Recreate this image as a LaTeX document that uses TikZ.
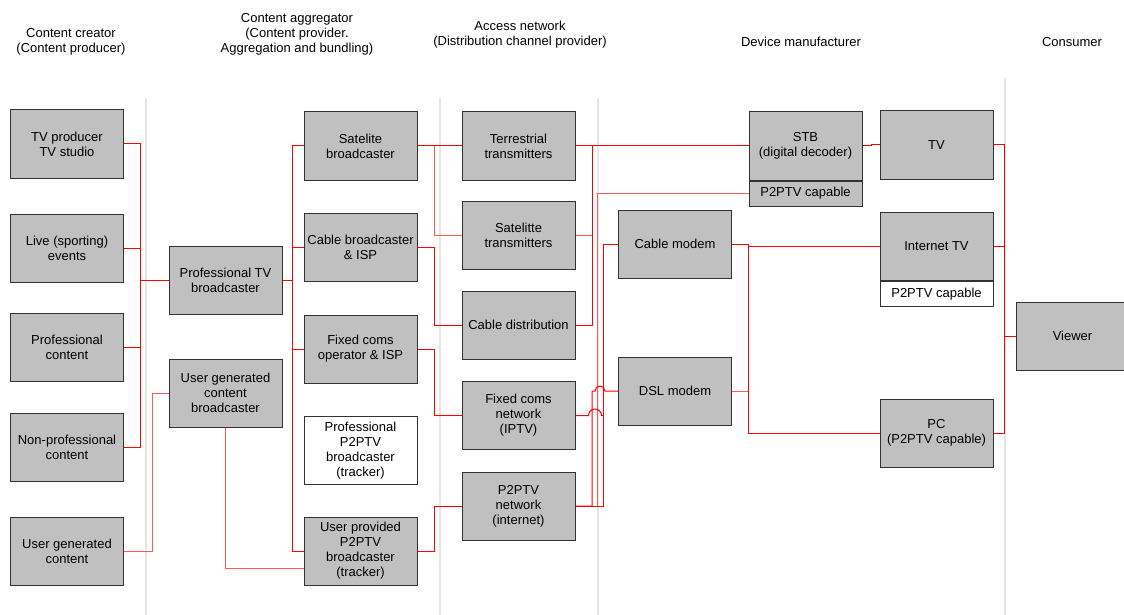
\documentclass[tikz,border=0pt]{standalone}
\usepackage{fontspec}
\setmainfont{Liberation Sans}
\usetikzlibrary{calc}
\definecolor{boxgray}{RGB}{192,192,192}
\definecolor{sepgray}{RGB}{230,230,230}
\begin{document}
\begin{tikzpicture}[x=1pt,y=-1pt,
  txt/.style={font=\fontsize{13pt}{15pt}\selectfont, align=center, inner sep=0pt},
  box/.style={txt, draw=black!80, line width=1pt, fill=boxgray,
    minimum width=113pt, minimum height=68pt},
  wbox/.style={box, fill=white},
  strip/.style={txt, draw=black!80, line width=1pt, fill=boxgray,
    minimum width=113pt, minimum height=25pt, anchor=north},
  wstrip/.style={strip, fill=white},
  wire/.style={draw=red, line width=1pt},
  pale/.style={draw=red!65, line width=1pt},
  sep/.style={draw=sepgray, line width=1.5pt}]
\useasboundingbox (0,0) rectangle (1124,615);

% column separators
\draw[sep] (146,98) -- (146,615);
\draw[sep] (440,98) -- (440,615);
\draw[sep] (598,98) -- (598,615);
\draw[sep] (1005,78) -- (1005,615);

% column headings
\node[txt] (h1) at (71,41.5) {Content creator\\(Content producer)};
\node[txt] (h2) at (297,34) {Content aggregator\\(Content provider.\\Aggregation and bundling)};
\node[txt] (h3) at (520,34.5) {Access network\\(Distribution channel provider)};
\node[txt] (h4) at (801,42) {Device manufacturer};
\node[txt] (h5) at (1072,42) {Consumer};

% content creators
\node[box] (tvprod) at (67,144) {TV producer\\TV studio};
\node[box] (live) at (67,248) {Live (sporting)\\events};
\node[box] (procont) at (67,347) {Professional\\content};
\node[box] (nonpro) at (67,447) {Non-professional\\content};
\node[box] (ugc) at (67,551) {User generated\\content};

% aggregators
\node[box] (protv) at (225.5,280) {Professional TV\\broadcaster};
\node[box] (ugcb) at (225.5,393) {User generated\\content\\broadcaster};
\node[box] (satb) at (360.5,146) {Satelite\\broadcaster};
\node[box] (cableb) at (360.5,247.5) {Cable broadcaster\\\& ISP};
\node[box] (fixedop) at (360.5,349) {Fixed coms\\operator \& ISP};
\node[wbox] (prop2p) at (360.5,450.5) {Professional\\P2PTV\\broadcaster\\(tracker)};
\node[box] (userp2p) at (360.5,551) {User provided\\P2PTV\\broadcaster\\(tracker)};

% access networks
\node[box] (terr) at (518.5,146) {Terrestrial\\transmitters};
\node[box] (sattx) at (518.5,235) {Satelitte\\transmitters};
\node[box] (cabled) at (518.5,325) {Cable distribution};
\node[box] (fixednet) at (518.5,415.5) {Fixed coms\\network\\(IPTV)};
\node[box] (p2pnet) at (518.5,506) {P2PTV\\network\\(internet)};

% devices
\node[box] (cmodem) at (675,244) {Cable modem};
\node[box] (dsl) at (675,391) {DSL modem};
\node[box] (stb) at (805.5,146) {STB\\(digital decoder)};
\node[strip] (stbp) at (stb.south) {P2PTV capable};
\node[box] (tv) at (936.5,145) {TV};
\node[box] (itv) at (936.5,246.5) {Internet TV};
\node[wstrip] (itvp) at (itv.south) {P2PTV capable};
\node[box] (pc) at (936.5,433) {PC\\(P2PTV capable)};

% consumer
\node[box] (viewer) at (1072.5,336) {Viewer};

% bus positions
\coordinate (busA) at (140,0);
\coordinate (busB) at (152,0);
\coordinate (busC) at (292,0);
\coordinate (busD) at (434,0);
\coordinate (busE) at (592,0);
\coordinate (busF) at (597,0);
\coordinate (busG) at (603,0);
\coordinate (busH) at (748,0);
\coordinate (busI) at (1004,0);

% creators to professional broadcaster
\draw[wire] (tvprod.east) -- (tvprod.east -| busA) -- (nonpro.east -| busA) -- (nonpro.east);
\draw[wire] (live.east) -- (live.east -| busA);
\draw[wire] (procont.east) -- (procont.east -| busA);
\draw[wire] (busA |- protv.west) -- (protv.west);

% user generated content
\draw[pale] (ugc.east) -- (ugc.east -| busB) -- (busB |- ugcb.west) -- (ugcb.west);
\draw[pale] (ugcb.south) |- ($(userp2p.west)+(0,17)$);

% professional broadcaster to aggregators
\draw[wire] (protv.east) -- (protv.east -| busC);
\draw[wire] (satb.west) -- (satb.west -| busC) -- (userp2p.west -| busC) -- (userp2p.west);
\draw[wire] (cableb.west) -- (cableb.west -| busC);
\draw[wire] (fixedop.west) -- (fixedop.west -| busC);

% aggregators to access networks
\draw[wire] (satb.east) -- (terr.west);
\draw[pale] (satb.east -| busD) |- (sattx.west);
\draw[wire] (cableb.east) -- (cableb.east -| busD) |- (cabled.west);
\draw[wire] (fixedop.east) -- (fixedop.east -| busD) |- (fixednet.west);
\draw[wire] (userp2p.east) -- (userp2p.east -| busD) |- (p2pnet.west);

% access networks to devices
\draw[wire] (terr.east) -- (stb.west);
\draw[wire] (terr.east -| busE) |- (cabled.east);
\draw[pale] (sattx.east) -- (sattx.east -| busE);
\draw[pale] (stbp.west) -- (stbp.west -| busF) |- (p2pnet.east);
\draw[wire] (cmodem.west) -- (cmodem.west -| busG) |- (p2pnet.east);
\draw[wire] (dsl.west) -- ++(-13,0) arc[start angle=0,end angle=180,radius=5pt]
  -- (dsl.west -| busE) -- (busE |- p2pnet.east) -- (p2pnet.east);
\draw[wire] (fixednet.east) -- ++(13,0) arc[start angle=180,end angle=0,radius=6.5pt]
  -- (fixednet.east -| busG);

% modems to terminals
\draw[wire] (cmodem.east) -- (cmodem.east -| busH) -- (busH |- pc.west) -- (pc.west);
\draw[wire] (busH |- itv.west) -- (itv.west);
\draw[pale] (dsl.east) -- (dsl.east -| busH);
\draw[wire] (stb.east) -- ++(9,0) |- (tv.west);

% terminals to viewer
\draw[wire] (tv.east) -- (tv.east -| busI) -- (pc.east -| busI) -- (pc.east);
\draw[wire] (itv.east) -- (itv.east -| busI);
\draw[wire] (busI |- viewer.west) -- (viewer.west);
\end{tikzpicture}
\end{document}
